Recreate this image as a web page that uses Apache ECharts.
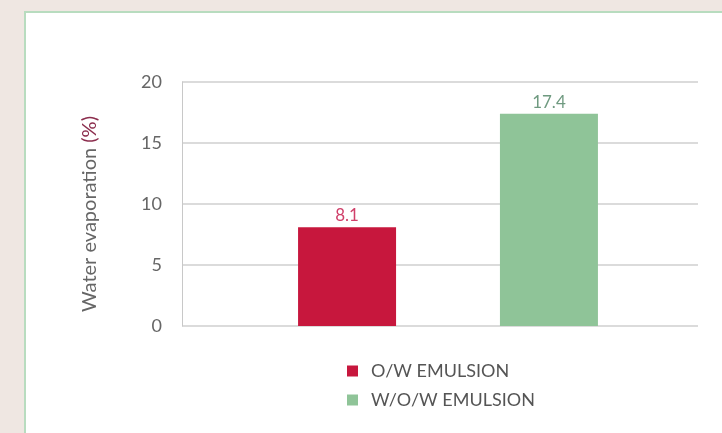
<!DOCTYPE html>
<html>
<head>
<meta charset="utf-8">
<script src="https://cdn.jsdelivr.net/npm/echarts@6/dist/echarts.min.js"></script>
<style>
html, body { margin: 0; padding: 0; background: #efe7e2; }
#panel { position: absolute; left: 24px; top: 11px; width: 698px; height: 422px; background: #fff;
  border-left: 2px solid #b8dcbf; border-top: 2px solid #b8dcbf; }
#main { position: absolute; left: 0; top: 0; width: 722px; height: 433px; }
</style>
</head>
<body>
<div id="panel"></div>
<div id="main"></div>
<script>
var categories = ['Water evaporation'];
var seriesNames = ['O/W EMULSION', 'W/O/W EMULSION'];
var owValues = [8.1];
var wowValues = [17.4];
var yTicks = [0, 5, 10, 15, 20];

var myChart = echarts.init(document.getElementById('main'));
var font = 'Lato, "Open Sans", sans-serif';

var option = {
	backgroundColor: 'transparent',
	textStyle: { fontFamily: font },
	grid: [
		{ left: 182, right: 24, top: 82, bottom: 107 },
		{ left: 182, right: 8, top: 82, bottom: 107 } // bars sit a bit right of centre
	],
	legend: {
		data: seriesNames,
		orient: 'vertical',
		left: 342,
		top: 357,
		itemWidth: 11,
		itemHeight: 11,
		itemGap: 11,
		icon: 'rect',
		textStyle: { fontFamily: font, fontSize: 18, color: '#555', padding: [0, 0, 0, 8] }
	},
	xAxis: [{
		gridIndex: 0,
		type: 'category',
		data: categories,
		axisLine: { show: false },
		axisTick: { show: false },
		axisLabel: { show: false }
	}, {
		gridIndex: 1,
		type: 'category',
		data: categories,
		axisLine: { show: false },
		axisTick: { show: false },
		axisLabel: { show: false }
	}],
	yAxis: [{
		gridIndex: 0,
		type: 'value',
		min: yTicks[0],
		max: yTicks[yTicks.length - 1],
		interval: 5,
		name: '{a|Water evaporation }{b|(%)}',
		nameLocation: 'middle',
		nameGap: 82,
		nameTextStyle: {
			padding: [0, 20, 0, 0],
			rich: {
				a: { fontFamily: font, fontSize: 20, color: '#666' },
				b: { fontFamily: font, fontSize: 20, color: '#8c2e4e' }
			}
		},
		axisLine: { show: true, lineStyle: { color: '#c8c8c8', width: 1 } },
		axisTick: { show: false },
		axisLabel: { fontFamily: font, fontSize: 18, color: '#666', margin: 20 },
		splitLine: { lineStyle: { color: '#cfcfcf', width: 1.5 } }
	}, {
		gridIndex: 1,
		type: 'value',
		min: yTicks[0],
		max: yTicks[yTicks.length - 1],
		interval: 5,
		show: false,
		splitLine: { show: false }
	}],
	series: [{
		name: seriesNames[0],
		type: 'bar',
		xAxisIndex: 1,
		yAxisIndex: 1,
		data: owValues,
		barWidth: 98,
		barGap: '106%',
		itemStyle: { color: '#c7173d' },
		label: { show: true, position: 'top', distance: 3, fontFamily: font, fontSize: 17, color: '#d0406a' }
	}, {
		name: seriesNames[1],
		type: 'bar',
		xAxisIndex: 1,
		yAxisIndex: 1,
		data: wowValues,
		barWidth: 98,
		itemStyle: { color: '#8fc498' },
		label: { show: true, position: 'top', distance: 3, fontFamily: font, fontSize: 17, color: '#6f9a80' }
	}]
};

myChart.setOption(option);
</script>
</body>
</html>
